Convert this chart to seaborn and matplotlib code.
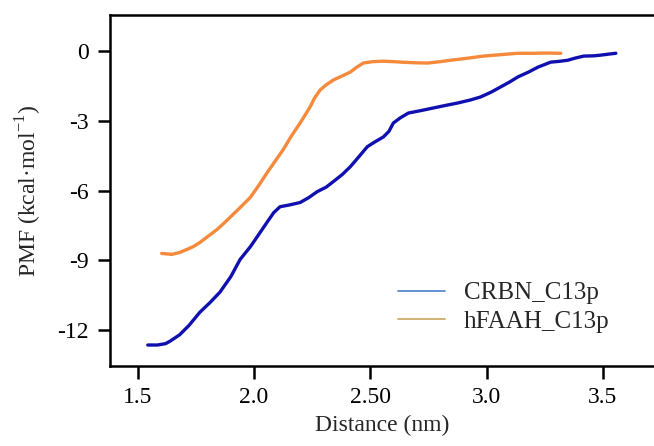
import numpy as np
import pandas as pd
import seaborn as sns
import matplotlib.pyplot as plt
from matplotlib.lines import Line2D

# --- data ---
crbn_x = [1.543, 1.585, 1.62, 1.638, 1.68, 1.72, 1.767, 1.81, 1.853, 1.90, 1.940, 1.985,
          2.026, 2.06, 2.085, 2.112, 2.15, 2.198, 2.235, 2.272, 2.31, 2.341, 2.38, 2.414,
          2.45, 2.487, 2.52, 2.556, 2.58, 2.599, 2.63, 2.664, 2.72, 2.772, 2.82, 2.875,
          2.93, 2.974, 3.02, 3.060, 3.10, 3.134, 3.18, 3.220, 3.276, 3.31, 3.349, 3.38,
          3.418, 3.46, 3.491, 3.53, 3.556]
crbn_y = [-12.64, -12.64, -12.58, -12.48, -12.20, -11.80, -11.23, -10.82, -10.37, -9.70,
          -8.96, -8.40, -7.80, -7.30, -6.94, -6.69, -6.62, -6.51, -6.30, -6.04, -5.85,
          -5.61, -5.30, -4.97, -4.55, -4.11, -3.90, -3.69, -3.45, -3.09, -2.86, -2.66,
          -2.55, -2.44, -2.34, -2.23, -2.10, -1.97, -1.76, -1.54, -1.32, -1.11, -0.90,
          -0.69, -0.47, -0.44, -0.39, -0.30, -0.21, -0.20, -0.17, -0.12, -0.09]

faah_x = [1.603, 1.625, 1.647, 1.68, 1.711, 1.74, 1.767, 1.80, 1.841, 1.875, 1.909,
          1.945, 1.983, 2.02, 2.056, 2.09, 2.125, 2.16, 2.198, 2.22, 2.241, 2.26, 2.284,
          2.31, 2.341, 2.38, 2.414, 2.44, 2.470, 2.51, 2.556, 2.60, 2.65, 2.70, 2.746,
          2.80, 2.845, 2.92, 2.987, 3.06, 3.134, 3.20, 3.26, 3.319]
faah_y = [-8.70, -8.72, -8.74, -8.66, -8.53, -8.40, -8.23, -7.98, -7.67, -7.36, -7.03,
          -6.68, -6.30, -5.78, -5.23, -4.74, -4.24, -3.66, -3.09, -2.74, -2.40, -2.02,
          -1.67, -1.45, -1.24, -1.06, -0.90, -0.70, -0.51, -0.45, -0.43, -0.45, -0.48,
          -0.50, -0.51, -0.45, -0.39, -0.30, -0.21, -0.15, -0.09, -0.09, -0.08, -0.09]

x_ticks = [1.5, 2.0, 2.5, 3.0, 3.5]
x_tick_labels = ["1.5", "2.0", "2.50", "3.0", "3.5"]
y_ticks = [0, -3, -6, -9, -12]

df = pd.concat([
    pd.DataFrame({"Distance": crbn_x, "PMF": crbn_y, "system": "CRBN_C13p"}),
    pd.DataFrame({"Distance": faah_x, "PMF": faah_y, "system": "hFAAH_C13p"}),
])

sns.set_style("ticks")
plt.rcParams["font.family"] = ["Liberation Serif", "DejaVu Serif"]
plt.rcParams["mathtext.fontset"] = "custom"
plt.rcParams["mathtext.rm"] = "Liberation Serif"

fig = plt.figure(figsize=(6.54, 4.46), dpi=100)
ax = fig.add_axes([0.168, 0.179, 0.832, 0.787])

sns.lineplot(data=df, x="Distance", y="PMF", hue="system",
             palette={"CRBN_C13p": "#1010b0", "hFAAH_C13p": "#f5893c"},
             linewidth=2.4, legend=False, ax=ax)

fs = 17
ax.set_xlim(1.38, 3.72)
ax.set_ylim(-13.55, 1.55)
ax.set_xticks(x_ticks)
ax.set_xticklabels(x_tick_labels)
ax.set_yticks(y_ticks)
ax.set_yticklabels([str(v) for v in y_ticks])
ax.tick_params(axis="both", direction="out", length=9, width=1.8, labelsize=fs,
               color="black", labelcolor="black", pad=6)

for side in ["left", "bottom", "top"]:
    ax.spines[side].set_linewidth(1.8)
    ax.spines[side].set_color("black")
ax.spines["right"].set_visible(False)

ax.set_xlabel("Distance (nm)", fontsize=fs, labelpad=5)
ax.set_ylabel(r"PMF (kcal·mol$^{\mathregular{-1}}$)", fontsize=fs, labelpad=10)

# legend lines are drawn in lighter tones than the curves in the original
handles = [Line2D([], [], color="#4a7fd0", lw=1.2),
           Line2D([], [], color="#c8a45a", lw=1.2)]
ax.legend(handles, ["CRBN_C13p", "hFAAH_C13p"], loc="center left",
          bbox_to_anchor=(0.529, 0.167), frameon=False, fontsize=18,
          handlelength=1.9, handletextpad=0.75, labelspacing=0.25,
          borderpad=0, borderaxespad=0)

fig.savefig("out.png", dpi=100)
